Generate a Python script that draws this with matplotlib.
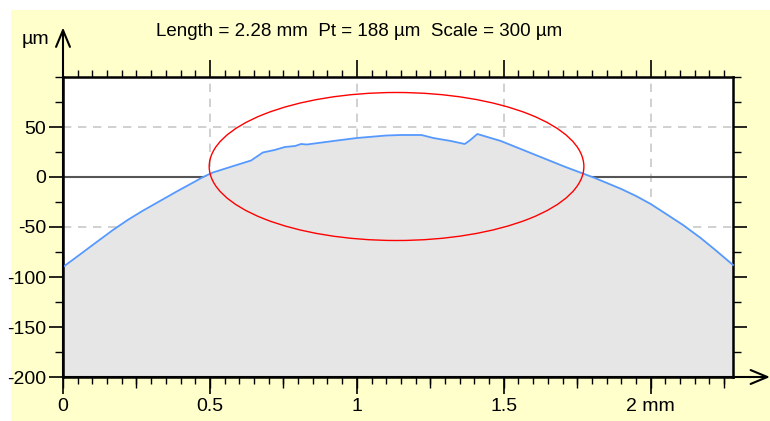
import numpy as np
import matplotlib
matplotlib.use('Agg')
import matplotlib.pyplot as plt
from matplotlib.patches import Ellipse
from matplotlib.ticker import MultipleLocator, FixedLocator, NullFormatter

plt.rcParams['font.family'] = ['Liberation Sans', 'DejaVu Sans']

# surface profile (mm, µm)
profile_x = [0.0, 0.0, 0.03, 0.06, 0.11, 0.17, 0.22, 0.27, 0.33, 0.39, 0.44, 0.477, 0.51,
             0.58, 0.64, 0.68, 0.72, 0.755, 0.79, 0.81, 0.83, 0.92, 1.00, 1.10, 1.15,
             1.22, 1.26, 1.32, 1.367, 1.384, 1.41, 1.49, 1.60, 1.71, 1.81, 1.90, 1.95,
             2.00, 2.05, 2.11, 2.17, 2.22, 2.28]
profile_y = [-145, -90, -83.5, -77, -66, -53, -43, -34, -24, -14, -6, 0, 4.5,
             11, 16.5, 24.5, 27, 30, 31, 33, 32.5, 36, 39, 41.5, 42,
             42, 39, 36, 33, 36.5, 43, 36, 23, 10, -1, -12, -19,
             -27, -36.5, -48, -61, -73, -88]

x_ticks = [0, 0.5, 1, 1.5, 2]
x_labels = ['0', '0.5', '1', '1.5', '2 mm']
y_ticks = [50, 0, -50, -100, -150, -200]
y_labels = ['50', '0', '-50', '-100', '-150', '-200']
title = 'Length = 2.28 mm  Pt = 188 µm  Scale = 300 µm'

# highlighted zone (center x, center y, width, height)
zone = (1.135, 10.5, 1.275, 148)

W, H = 770, 421
fig = plt.figure(figsize=(W / 100, H / 100), dpi=100)
fig.patch.set_facecolor('white')
fig.patches.append(plt.Rectangle((11 / W, 0), 1 - 11 / W, 1 - 10 / H,
                                 transform=fig.transFigure, facecolor='#ffffcc',
                                 edgecolor='none', zorder=-5))

ax = fig.add_axes([63 / W, 44 / H, 670 / W, 300 / H])
ax.set_facecolor('white')
ax.set_xlim(0, 2.28)
ax.set_ylim(-200, 100)

for gx in [0.5, 1.0, 1.5, 2.0]:
    ax.axvline(gx, color='#c8c8c8', lw=1.2, ls=(0, (5, 4)), zorder=1)
for gy in [50, -50, -100, -150]:
    ax.axhline(gy, color='#c8c8c8', lw=1.2, ls=(0, (5, 4)), zorder=1)
ax.axhline(0, color='#555555', lw=1.5, zorder=1)

ax.fill_between(profile_x, profile_y, -200, color='#e6e6e6', lw=0, zorder=2)
ax.plot(profile_x, profile_y, color='#5599ff', lw=1.3, zorder=3, clip_on=False)

ax.add_patch(Ellipse(zone[:2], zone[2], zone[3], fill=False, edgecolor='red', lw=1.0, zorder=4))

for s in ax.spines.values():
    s.set_color('black')
    s.set_linewidth(1.8)
    s.set_zorder(2.8)

ax.xaxis.set_major_locator(FixedLocator(x_ticks))
ax.set_xticklabels(x_labels)
ax.xaxis.set_minor_locator(MultipleLocator(0.05))
ax.yaxis.set_major_locator(FixedLocator(y_ticks))
ax.set_yticklabels(y_labels)
ax.yaxis.set_minor_locator(MultipleLocator(25))
ax.tick_params(axis='both', which='major', direction='out', length=10, width=1.2,
               labelsize=14, color='black', pad=2)
ax.tick_params(axis='both', which='minor', direction='out', length=5, width=1.0, color='black')
ax.tick_params(axis='x', which='major', top=True, pad=3)
ax.tick_params(axis='x', which='major', length=12)
ax.tick_params(axis='x', which='minor', top=True)
ax.tick_params(axis='y', which='minor', right=True, length=6)
ax.tick_params(axis='y', which='major', right=True)

# medium ticks every 0.25 mm on the bottom scale
mid = ax.secondary_xaxis('bottom')
mid.xaxis.set_major_locator(MultipleLocator(0.25))
mid.xaxis.set_major_formatter(NullFormatter())
mid.tick_params(direction='out', length=8, width=1.0, color='black')
mid.spines['bottom'].set_visible(False)

# axis arrows
arrow = dict(arrowstyle='->,head_length=0.6,head_width=0.25', color='black', lw=1.5,
             mutation_scale=20, shrinkA=0, shrinkB=0)
ax.annotate('', xy=(0, 1.165), xytext=(0, 0), xycoords='axes fraction',
            textcoords='axes fraction', arrowprops=arrow, annotation_clip=False)
ax.annotate('', xy=(707 / 670, 0), xytext=(0, 0), xycoords='axes fraction',
            textcoords='axes fraction', arrowprops=arrow, annotation_clip=False)

fig.text(35 / W, 1 - 40 / H, 'µm', ha='center', va='center', fontsize=14)
fig.text(359 / W, 1 - 31 / H, title, ha='center', va='center', fontsize=13.5)

fig.savefig('out.png', dpi=100, facecolor=fig.get_facecolor())
